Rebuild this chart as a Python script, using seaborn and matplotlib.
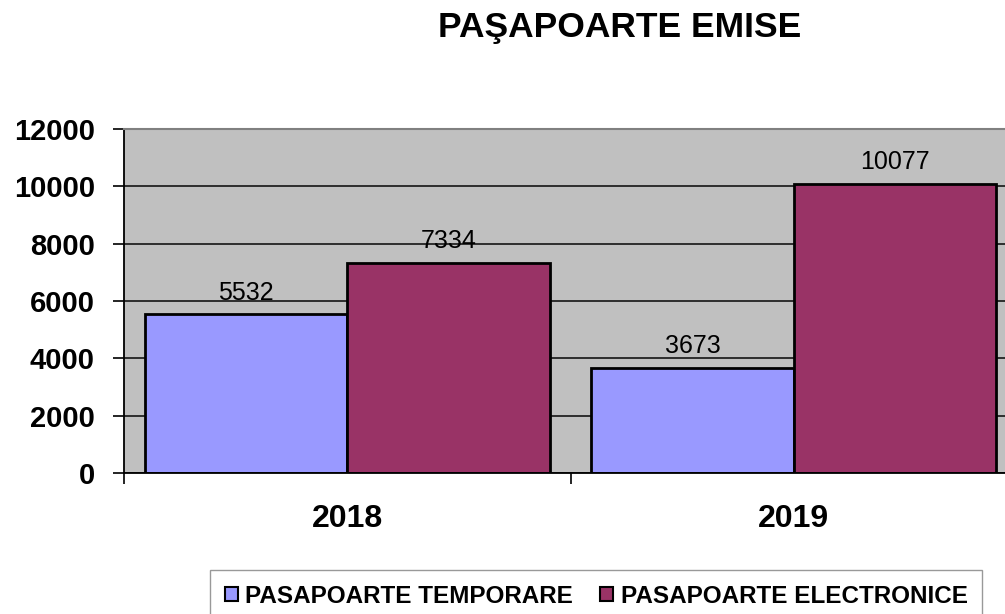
import pandas as pd
import matplotlib.pyplot as plt
import seaborn as sns

years = ['2018', '2019']
series = ['PASAPOARTE TEMPORARE', 'PASAPOARTE ELECTRONICE']
temporare = [5532, 3673]
electronice = [7334, 10077]
colors = ['#9999FF', '#993366']

df = pd.DataFrame({
    'An': years * 2,
    'Tip': [series[0]] * 2 + [series[1]] * 2,
    'Numar': temporare + electronice,
})

plt.rcParams['font.family'] = ['Liberation Sans', 'DejaVu Sans']

fig = plt.figure(figsize=(10.05, 6.14), dpi=100)
ax = fig.add_axes([124 / 1005, 141 / 614, 893 / 1005, 344 / 614])
ax.set_facecolor('#C0C0C0')

sns.barplot(data=df, x='An', y='Numar', hue='Tip', palette=colors, saturation=1,
            width=0.906, edgecolor='black', linewidth=2, ax=ax, legend=False)

for c in ax.containers:
    ax.bar_label(c, fontsize=18, padding=7)

ax.set_ylim(0, 12000)
ax.set_xlim(-0.5, 1.5)
ax.set_yticks(range(0, 12001, 2000))
ax.yaxis.grid(True, color='#222222', linewidth=1.3)
ax.set_axisbelow(True)
ax.tick_params(axis='y', length=8, width=1.2, labelsize=21, pad=13)
for t in ax.get_yticklabels():
    t.set_fontweight('bold')
ax.set_xticks([0, 1])
ax.set_xticklabels(years, fontsize=23, fontweight='bold')
ax.tick_params(axis='x', length=0, pad=22)
ax.set_xticks([-0.5, 0.5, 1.5], minor=True)
ax.tick_params(axis='x', which='minor', length=8, width=1.2, direction='out')
ax.set_xlabel('')
ax.set_ylabel('')

ax.spines['top'].set_color('#808080')
ax.spines['top'].set_linewidth(1.5)
ax.spines['right'].set_visible(False)
ax.spines['left'].set_linewidth(1.3)
ax.spines['bottom'].set_linewidth(1.3)

fig.text(620 / 1005, 1 - 28 / 614, 'PAŞAPOARTE EMISE', fontsize=25.5,
         fontweight='bold', ha='center', va='center')

handles = [plt.Rectangle((0, 0), 1, 1, facecolor=col, edgecolor='black', linewidth=1.5)
           for col in colors]
fig.legend(handles, series, loc='upper left', bbox_to_anchor=(210 / 1005, 1 - 570 / 614),
           ncol=2, frameon=True, fancybox=False, edgecolor='#808080',
           prop={'weight': 'bold', 'size': 17.5}, handlelength=0.55, handleheight=0.55,
           handletextpad=0.3, columnspacing=1.1, borderpad=0.6, borderaxespad=0)

fig.savefig('out.png', dpi=100)
